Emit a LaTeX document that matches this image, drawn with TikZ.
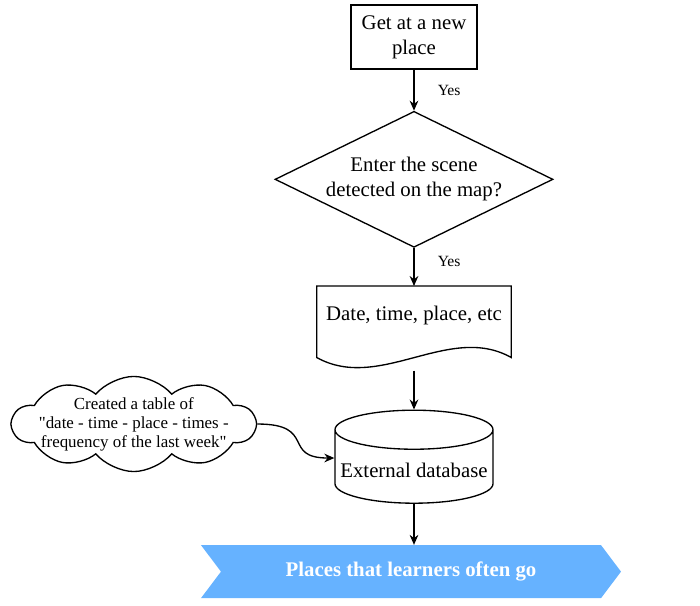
\documentclass[tikz,border=0pt]{standalone}
\usepackage{fontspec}
\setmainfont{Liberation Serif}
\usepackage{tikz}
\usetikzlibrary{positioning,arrows.meta,shapes.geometric,shapes.symbols}
\definecolor{flowblue}{RGB}{102,178,255}
\newcommand{\mainsize}{\fontsize{15.6}{18.7}\selectfont}
\newcommand{\notesize}{\fontsize{12.7}{14.3}\selectfont}
\newcommand{\yessize}{\fontsize{11.7}{14}\selectfont}

\begin{document}
\begin{tikzpicture}[every node/.style={font=\mainsize},
    flowarrow/.style={-{Stealth[length=7.5pt,width=6.5pt]},line width=1pt},
    yeslabel/.style={font=\yessize,right=14pt}]
  \useasboundingbox (-310.5pt,27.75pt) rectangle (214.5pt,-426.75pt);
  \node[draw,line width=1pt,minimum width=94.5pt,minimum height=48pt,align=center] (start) at (0,0) {Get at a new\\place};
  \node[draw,line width=1pt,diamond,aspect=2.04,inner sep=0pt,minimum width=208.5pt,minimum height=102pt,align=center,below=30.75pt of start] (check) {Enter the scene\\detected on the map?};
  \node[minimum width=145.5pt,minimum height=43.5pt,below=28.5pt of check] (record) {Date, time, place, etc};
  \draw[line width=1pt] (record.north west) -- (record.north east) -- ([yshift=-9.75pt]record.south east)
    .. controls +(-46.5pt,26.25pt) and +(47.25pt,-26.25pt) .. ([yshift=-9.75pt]record.south west) -- cycle;
  \coordinate (recordend) at ([yshift=-19.5pt]record.south);
  \node[draw,line width=1pt,cylinder,shape border rotate=90,aspect=0.25,minimum width=118.5pt,minimum height=69.75pt,below=48.75pt of record] (db) {External database};
  \node[signal,signal to=east,signal from=west,signal pointer angle=106,fill=flowblue,text=white,font=\mainsize\bfseries,minimum width=315pt,minimum height=39.75pt,below=30.75pt of db,xshift=-2.25pt] (places) {Places that learners often go};
  \node[draw,line width=1pt,cloud,cloud puffs=10,cloud puff arc=100,cloud ignores aspect,inner xsep=-6pt,inner ysep=-3.5pt,align=center,font=\notesize,left=57.75pt of db,yshift=34.5pt] (note) {Created a table of\\\textquotedbl date - time - place - times -\\frequency of the last week\textquotedbl};
  \draw[flowarrow] (start) -- (check) node[midway,yeslabel] {Yes};
  \draw[flowarrow] (check) -- (record) node[pos=0.35,yeslabel] {Yes};
  \draw[flowarrow] (recordend) -- (db);
  \draw[flowarrow] (db) -- (db |- places.north);
  \draw[flowarrow] (note.east) .. controls +(45pt,0) and +(-40pt,0) .. ([yshift=9pt]db.west);
\end{tikzpicture}
\end{document}
